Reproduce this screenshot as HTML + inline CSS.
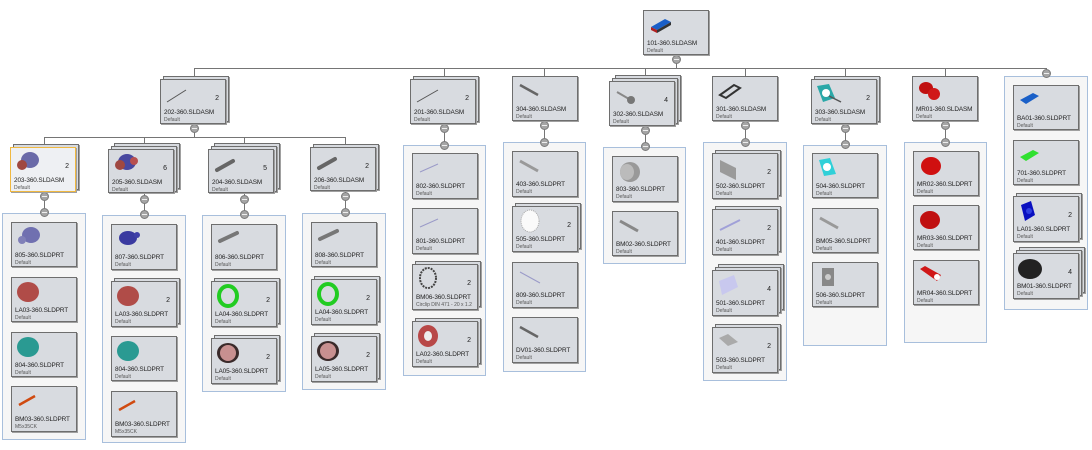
<!DOCTYPE html>
<html><head><meta charset="utf-8"><style>
body{margin:0;width:1092px;height:450px;background:#fff;position:relative;overflow:hidden;font-family:"Liberation Sans",sans-serif}
div{position:absolute;box-sizing:border-box}
.c{width:66px;height:46px;background:#d8dbe0;border:1px solid #6e6e6e;box-shadow:1px 1px 0 #a0a0a0}
.hl{background:#eef0f3;border:1px solid #f0b840}
.n{position:absolute;left:3px;top:29px;font-size:6.4px;color:#222;font-weight:normal;white-space:nowrap;letter-spacing:-0.1px}
.d{position:absolute;left:3px;top:37px;font-size:5px;color:#555;font-style:normal;white-space:nowrap}
.q{position:absolute;right:6px;top:15px;font-size:7px;color:#222;text-decoration:none}
.i{position:absolute;left:3px;top:2px;width:28px;height:24px}
.g{background:#f6f6f6;border:1px solid #a8bfdc}
.h{height:1px;background:#757575}
.v{width:1px;background:#757575}
.o{width:9px;height:9px;border-radius:50%;background:#a5a5a5;border:1px solid #7a7a7a}
.o::after{content:"";position:absolute;left:1px;top:3px;width:5px;height:1px;background:#eee}
</style></head><body>

<div class="v" style="left:676px;top:54px;height:14px"></div>
<div class="h" style="left:194px;top:68px;width:853px"></div>
<div class="v" style="left:194px;top:68px;height:9px"></div>
<div class="v" style="left:444px;top:68px;height:9px"></div>
<div class="v" style="left:544px;top:68px;height:9px"></div>
<div class="v" style="left:645px;top:68px;height:10px"></div>
<div class="v" style="left:745px;top:68px;height:9px"></div>
<div class="v" style="left:845px;top:68px;height:9px"></div>
<div class="v" style="left:945px;top:68px;height:9px"></div>
<div class="v" style="left:1046px;top:68px;height:8px"></div>
<div class="v" style="left:194px;top:124px;height:13px"></div>
<div class="h" style="left:44px;top:137px;width:302px"></div>
<div class="v" style="left:44px;top:137px;height:8px"></div>
<div class="v" style="left:144px;top:137px;height:9px"></div>
<div class="v" style="left:244px;top:137px;height:9px"></div>
<div class="v" style="left:345px;top:137px;height:8px"></div>
<div class="v" style="left:44px;top:192px;height:21px"></div>
<div class="v" style="left:144px;top:193px;height:22px"></div>
<div class="v" style="left:244px;top:193px;height:22px"></div>
<div class="v" style="left:345px;top:191px;height:22px"></div>
<div class="v" style="left:444px;top:123px;height:22px"></div>
<div class="v" style="left:544px;top:121px;height:21px"></div>
<div class="v" style="left:645px;top:126px;height:21px"></div>
<div class="v" style="left:745px;top:121px;height:21px"></div>
<div class="v" style="left:845px;top:123px;height:22px"></div>
<div class="v" style="left:945px;top:121px;height:21px"></div>

<div class="g" style="left:2px;top:213px;width:84px;height:227px"></div>
<div class="g" style="left:102px;top:215px;width:84px;height:228px"></div>
<div class="g" style="left:202px;top:215px;width:84px;height:177px"></div>
<div class="g" style="left:302px;top:213px;width:84px;height:177px"></div>
<div class="g" style="left:403px;top:145px;width:83px;height:231px"></div>
<div class="g" style="left:503px;top:142px;width:83px;height:230px"></div>
<div class="g" style="left:603px;top:147px;width:83px;height:117px"></div>
<div class="g" style="left:703px;top:142px;width:84px;height:239px"></div>
<div class="g" style="left:803px;top:145px;width:84px;height:201px"></div>
<div class="g" style="left:904px;top:142px;width:83px;height:201px"></div>
<div class="g" style="left:1004px;top:76px;width:84px;height:234px"></div>

<div class="o" style="left:672px;top:55px"></div>
<div class="o" style="left:1042px;top:69px"></div>
<div class="o" style="left:190px;top:124px"></div>
<div class="o" style="left:40px;top:192px"></div><div class="o" style="left:40px;top:208px"></div>
<div class="o" style="left:140px;top:195px"></div><div class="o" style="left:140px;top:210px"></div>
<div class="o" style="left:240px;top:195px"></div><div class="o" style="left:240px;top:210px"></div>
<div class="o" style="left:341px;top:192px"></div><div class="o" style="left:341px;top:208px"></div>
<div class="o" style="left:440px;top:124px"></div><div class="o" style="left:440px;top:141px"></div>
<div class="o" style="left:540px;top:121px"></div><div class="o" style="left:540px;top:138px"></div>
<div class="o" style="left:641px;top:126px"></div><div class="o" style="left:641px;top:142px"></div>
<div class="o" style="left:741px;top:121px"></div><div class="o" style="left:741px;top:138px"></div>
<div class="o" style="left:841px;top:124px"></div><div class="o" style="left:841px;top:140px"></div>
<div class="o" style="left:941px;top:121px"></div><div class="o" style="left:941px;top:138px"></div>

<div class="c" style="left:643px;top:10px;height:45px"><svg class="i"><polygon points="4,14 18,6 24,9 10,17" fill="#1a5fc8"/><polygon points="4,14 10,17 10,20 4,17" fill="#b02020"/><polygon points="10,17 24,9 24,12 10,20" fill="#333"/></svg><b class="n">101-360.SLDASM</b><i class="d">Default</i></div>

<div class="c" style="left:163px;top:76px"></div>
<div class="c" style="left:160px;top:79px;height:45px"><svg class="i"><line x1="3" y1="20" x2="22" y2="8" stroke="#555"/></svg><b class="n">202-360.SLDASM</b><i class="d">Default</i><s class="q">2</s></div>
<div class="c" style="left:413px;top:76px"></div>
<div class="c" style="left:410px;top:79px;height:45px"><svg class="i"><line x1="3" y1="20" x2="24" y2="8" stroke="#555"/></svg><b class="n">201-360.SLDASM</b><i class="d">Default</i><s class="q">2</s></div>
<div class="c" style="left:512px;top:76px;height:45px"><svg class="i"><line x1="4" y1="6" x2="22" y2="16" stroke="#666" stroke-width="2.5"/></svg><b class="n">304-360.SLDASM</b><i class="d">Default</i></div>
<div class="c" style="left:615px;top:75px"></div><div class="c" style="left:612px;top:78px"></div>
<div class="c" style="left:609px;top:81px;height:45px"><svg class="i"><line x1="4" y1="8" x2="16" y2="15" stroke="#888" stroke-width="2"/><circle cx="18" cy="16" r="4" fill="#777"/></svg><b class="n">302-360.SLDASM</b><i class="d">Default</i><s class="q">4</s></div>
<div class="c" style="left:712px;top:76px;height:45px"><svg class="i"><polygon points="4,16 18,6 24,9 10,19" fill="none" stroke="#333" stroke-width="2"/></svg><b class="n">301-360.SLDASM</b><i class="d">Default</i></div>
<div class="c" style="left:814px;top:76px"></div>
<div class="c" style="left:811px;top:79px;height:45px"><svg class="i"><polygon points="2,4 14,2 20,16 8,20" fill="#2aa8a8"/><circle cx="11" cy="11" r="4" fill="#fff"/><line x1="14" y1="14" x2="26" y2="20" stroke="#555" stroke-width="1.5"/></svg><b class="n">303-360.SLDASM</b><i class="d">Default</i><s class="q">2</s></div>
<div class="c" style="left:912px;top:76px;height:45px"><svg class="i"><ellipse cx="10" cy="9" rx="7" ry="6" fill="#c01010"/><ellipse cx="18" cy="15" rx="6" ry="6" fill="#d01818"/></svg><b class="n">MR01-360.SLDASM</b><i class="d">Default</i></div>

<div class="c" style="left:13px;top:144px"></div>
<div class="c hl" style="left:10px;top:147px;height:45px"><svg class="i"><ellipse cx="16" cy="10" rx="9" ry="8" fill="#6a6aa8"/><ellipse cx="8" cy="15" rx="5" ry="5" fill="#a04840"/></svg><b class="n">203-360.SLDASM</b><i class="d">Default</i><s class="q">2</s></div>
<div class="c" style="left:114px;top:143px"></div><div class="c" style="left:111px;top:146px"></div>
<div class="c" style="left:108px;top:149px;height:44px"><svg class="i"><ellipse cx="15" cy="10" rx="9" ry="8" fill="#4848a0"/><ellipse cx="8" cy="13" rx="5" ry="5" fill="#a04840"/><ellipse cx="22" cy="9" rx="4" ry="4" fill="#b85050"/></svg><b class="n">205-360.SLDASM</b><i class="d">Default</i><s class="q">6</s></div>
<div class="c" style="left:214px;top:143px"></div><div class="c" style="left:211px;top:146px"></div>
<div class="c" style="left:208px;top:149px;height:44px"><svg class="i"><line x1="5" y1="18" x2="21" y2="9" stroke="#666" stroke-width="4" stroke-linecap="round"/></svg><b class="n">204-360.SLDASM</b><i class="d">Default</i><s class="q">5</s></div>
<div class="c" style="left:313px;top:144px"></div>
<div class="c" style="left:310px;top:147px;height:44px"><svg class="i"><line x1="5" y1="18" x2="21" y2="9" stroke="#666" stroke-width="4" stroke-linecap="round"/></svg><b class="n">206-360.SLDASM</b><i class="d">Default</i><s class="q">2</s></div>

<div class="c" style="left:11px;top:222px;height:45px"><svg class="i"><ellipse cx="16" cy="10" rx="9" ry="8" fill="#7070b0"/><ellipse cx="7" cy="15" rx="4" ry="4" fill="#8080b8"/></svg><b class="n">805-360.SLDPRT</b><i class="d">Default</i></div>
<div class="c" style="left:11px;top:277px;height:45px"><svg class="i"><ellipse cx="13" cy="12" rx="11" ry="10" fill="#b04c48"/></svg><b class="n">LA03-360.SLDPRT</b><i class="d">Default</i></div>
<div class="c" style="left:11px;top:332px;height:45px"><svg class="i"><ellipse cx="13" cy="12" rx="11" ry="10" fill="#2a9a92"/></svg><b class="n">804-360.SLDPRT</b><i class="d">Default</i></div>
<div class="c" style="left:11px;top:386px;height:46px"><svg class="i"><line x1="4" y1="16" x2="20" y2="7" stroke="#d04a10" stroke-width="2.5"/></svg><b class="n">BM03-360.SLDPRT</b><i class="d">M5x35CK</i></div>
<div class="c" style="left:111px;top:224px;height:46px"><svg class="i"><ellipse cx="13" cy="11" rx="9" ry="7" fill="#3a3aa0"/><ellipse cx="22" cy="8" rx="3" ry="3" fill="#4040a8"/></svg><b class="n">807-360.SLDPRT</b><i class="d">Default</i></div>
<div class="c" style="left:114px;top:278px"></div>
<div class="c" style="left:111px;top:281px"><svg class="i"><ellipse cx="13" cy="12" rx="11" ry="10" fill="#b04c48"/></svg><b class="n">LA03-360.SLDPRT</b><i class="d">Default</i><s class="q">2</s></div>
<div class="c" style="left:111px;top:336px;height:45px"><svg class="i"><ellipse cx="13" cy="12" rx="11" ry="10" fill="#2a9a92"/></svg><b class="n">804-360.SLDPRT</b><i class="d">Default</i></div>
<div class="c" style="left:111px;top:391px"><svg class="i"><line x1="4" y1="16" x2="20" y2="7" stroke="#d04a10" stroke-width="2.5"/></svg><b class="n">BM03-360.SLDPRT</b><i class="d">M5x35CK</i></div>
<div class="c" style="left:211px;top:224px"><svg class="i"><line x1="5" y1="14" x2="22" y2="6" stroke="#777" stroke-width="4" stroke-linecap="round"/></svg><b class="n">806-360.SLDPRT</b><i class="d">Default</i></div>
<div class="c" style="left:214px;top:278px"></div>
<div class="c" style="left:211px;top:281px"><svg class="i"><ellipse cx="13" cy="12" rx="9" ry="10" fill="none" stroke="#22cc22" stroke-width="4"/></svg><b class="n">LA04-360.SLDPRT</b><i class="d">Default</i><s class="q">2</s></div>
<div class="c" style="left:214px;top:335px"></div>
<div class="c" style="left:211px;top:338px"><svg class="i"><ellipse cx="13" cy="12" rx="11" ry="10" fill="#3a2a2a"/><ellipse cx="13" cy="12" rx="8" ry="8" fill="#c89090"/></svg><b class="n">LA05-360.SLDPRT</b><i class="d">Default</i><s class="q">2</s></div>
<div class="c" style="left:311px;top:222px;height:45px"><svg class="i"><line x1="5" y1="14" x2="22" y2="6" stroke="#777" stroke-width="4" stroke-linecap="round"/></svg><b class="n">808-360.SLDPRT</b><i class="d">Default</i></div>
<div class="c" style="left:314px;top:276px"></div>
<div class="c" style="left:311px;top:279px"><svg class="i"><ellipse cx="13" cy="12" rx="9" ry="10" fill="none" stroke="#22cc22" stroke-width="4"/></svg><b class="n">LA04-360.SLDPRT</b><i class="d">Default</i><s class="q">2</s></div>
<div class="c" style="left:314px;top:333px"></div>
<div class="c" style="left:311px;top:336px"><svg class="i"><ellipse cx="13" cy="12" rx="11" ry="10" fill="#3a2a2a"/><ellipse cx="13" cy="12" rx="8" ry="8" fill="#c89090"/></svg><b class="n">LA05-360.SLDPRT</b><i class="d">Default</i><s class="q">2</s></div>
<div class="c" style="left:412px;top:153px"><svg class="i"><line x1="4" y1="16" x2="22" y2="8" stroke="#9a9ac8"/></svg><b class="n">802-360.SLDPRT</b><i class="d">Default</i></div>
<div class="c" style="left:412px;top:208px"><svg class="i"><line x1="4" y1="16" x2="22" y2="8" stroke="#9a9ac8"/></svg><b class="n">801-360.SLDPRT</b><i class="d">Default</i></div>
<div class="c" style="left:415px;top:261px"></div>
<div class="c" style="left:412px;top:264px"><svg class="i"><ellipse cx="12" cy="11" rx="8" ry="10" fill="none" stroke="#444" stroke-width="2" stroke-dasharray="2 1"/></svg><b class="n">BM06-360.SLDPRT</b><i class="d">Circlip DIN 471 - 20 x 1.2</i><s class="q">2</s></div>
<div class="c" style="left:415px;top:318px"></div>
<div class="c" style="left:412px;top:321px"><svg class="i"><ellipse cx="12" cy="12" rx="10" ry="11" fill="#b84848"/><ellipse cx="12" cy="12" rx="4" ry="5" fill="#eee"/></svg><b class="n">LA02-360.SLDPRT</b><i class="d">Default</i><s class="q">2</s></div>
<div class="c" style="left:512px;top:151px"><svg class="i"><line x1="4" y1="7" x2="22" y2="17" stroke="#999" stroke-width="3"/></svg><b class="n">403-360.SLDPRT</b><i class="d">Default</i></div>
<div class="c" style="left:515px;top:203px"></div>
<div class="c" style="left:512px;top:206px"><svg class="i"><ellipse cx="14" cy="12" rx="9" ry="11" fill="#fafafa" stroke="#aaa" stroke-dasharray="1 1"/></svg><b class="n">505-360.SLDPRT</b><i class="d">Default</i><s class="q">2</s></div>
<div class="c" style="left:512px;top:262px"><svg class="i"><line x1="4" y1="7" x2="24" y2="18" stroke="#9a9ac8"/></svg><b class="n">809-360.SLDPRT</b><i class="d">Default</i></div>
<div class="c" style="left:512px;top:317px"><svg class="i"><line x1="4" y1="7" x2="22" y2="17" stroke="#666" stroke-width="2.5"/></svg><b class="n">DV01-360.SLDPRT</b><i class="d">Default</i></div>
<div class="c" style="left:612px;top:156px"><svg class="i"><ellipse cx="14" cy="13" rx="10" ry="10" fill="#999"/><ellipse cx="11" cy="13" rx="7" ry="8" fill="#bbb"/></svg><b class="n">803-360.SLDPRT</b><i class="d">Default</i></div>
<div class="c" style="left:612px;top:211px;height:45px"><svg class="i"><line x1="4" y1="7" x2="22" y2="17" stroke="#888" stroke-width="3"/></svg><b class="n">BM02-360.SLDPRT</b><i class="d">Default</i></div>
<div class="c" style="left:715px;top:150px"></div>
<div class="c" style="left:712px;top:153px"><svg class="i"><polygon points="4,4 20,12 20,24 4,16" fill="#9a9a9a"/></svg><b class="n">502-360.SLDPRT</b><i class="d">Default</i><s class="q">2</s></div>
<div class="c" style="left:715px;top:206px"></div>
<div class="c" style="left:712px;top:209px"><svg class="i"><line x1="4" y1="18" x2="24" y2="8" stroke="#a0a0d8" stroke-width="2"/></svg><b class="n">401-360.SLDPRT</b><i class="d">Default</i><s class="q">2</s></div>
<div class="c" style="left:718px;top:264px"></div><div class="c" style="left:715px;top:267px"></div>
<div class="c" style="left:712px;top:270px"><svg class="i"><polygon points="3,8 18,2 22,14 6,22" fill="#c8c8ee"/></svg><b class="n">501-360.SLDPRT</b><i class="d">Default</i><s class="q">4</s></div>
<div class="c" style="left:715px;top:324px"></div>
<div class="c" style="left:712px;top:327px"><svg class="i"><polygon points="3,8 12,4 22,12 12,16" fill="#aaa"/></svg><b class="n">503-360.SLDPRT</b><i class="d">Default</i><s class="q">2</s></div>
<div class="c" style="left:812px;top:153px;height:45px"><svg class="i"><polygon points="3,4 14,2 20,18 8,20" fill="#30d0d8"/><circle cx="11" cy="11" r="4" fill="#fff"/></svg><b class="n">504-360.SLDPRT</b><i class="d">Default</i></div>
<div class="c" style="left:812px;top:208px;height:45px"><svg class="i"><line x1="4" y1="7" x2="22" y2="17" stroke="#999" stroke-width="3"/></svg><b class="n">BM05-360.SLDPRT</b><i class="d">Default</i></div>
<div class="c" style="left:812px;top:262px;height:45px"><svg class="i"><rect x="6" y="3" width="12" height="18" fill="#888"/><circle cx="12" cy="12" r="3" fill="#ccc"/></svg><b class="n">506-360.SLDPRT</b><i class="d">Default</i></div>
<div class="c" style="left:913px;top:151px;height:45px"><svg class="i"><ellipse cx="14" cy="12" rx="10" ry="9" fill="#d01010"/></svg><b class="n">MR02-360.SLDPRT</b><i class="d">Default</i></div>
<div class="c" style="left:913px;top:205px;height:45px"><svg class="i"><ellipse cx="13" cy="12" rx="10" ry="9" fill="#c01010"/></svg><b class="n">MR03-360.SLDPRT</b><i class="d">Default</i></div>
<div class="c" style="left:913px;top:260px;height:45px"><svg class="i"><polygon points="3,6 8,3 24,12 20,18" fill="#d01818"/><circle cx="20" cy="14" r="3" fill="#fff"/></svg><b class="n">MR04-360.SLDPRT</b><i class="d">Default</i></div>
<div class="c" style="left:1013px;top:85px;height:45px"><svg class="i"><polygon points="3,12 16,5 22,8 9,16" fill="#1a60c8"/></svg><b class="n">BA01-360.SLDPRT</b><i class="d">Default</i></div>
<div class="c" style="left:1013px;top:140px;height:45px"><svg class="i"><polygon points="3,14 16,7 22,10 9,18" fill="#30e030"/></svg><b class="n">701-360.SLDPRT</b><i class="d">Default</i></div>
<div class="c" style="left:1016px;top:193px"></div>
<div class="c" style="left:1013px;top:196px"><svg class="i"><polygon points="4,6 14,2 18,16 8,22" fill="#0a10c0"/><circle cx="12" cy="12" r="3" fill="#3040e0"/></svg><b class="n">LA01-360.SLDPRT</b><i class="d">Default</i><s class="q">2</s></div>
<div class="c" style="left:1019px;top:247px"></div><div class="c" style="left:1016px;top:250px"></div>
<div class="c" style="left:1013px;top:253px"><svg class="i"><ellipse cx="13" cy="13" rx="12" ry="10" fill="#222"/></svg><b class="n">BM01-360.SLDPRT</b><i class="d">Default</i><s class="q">4</s></div>

</body></html>
